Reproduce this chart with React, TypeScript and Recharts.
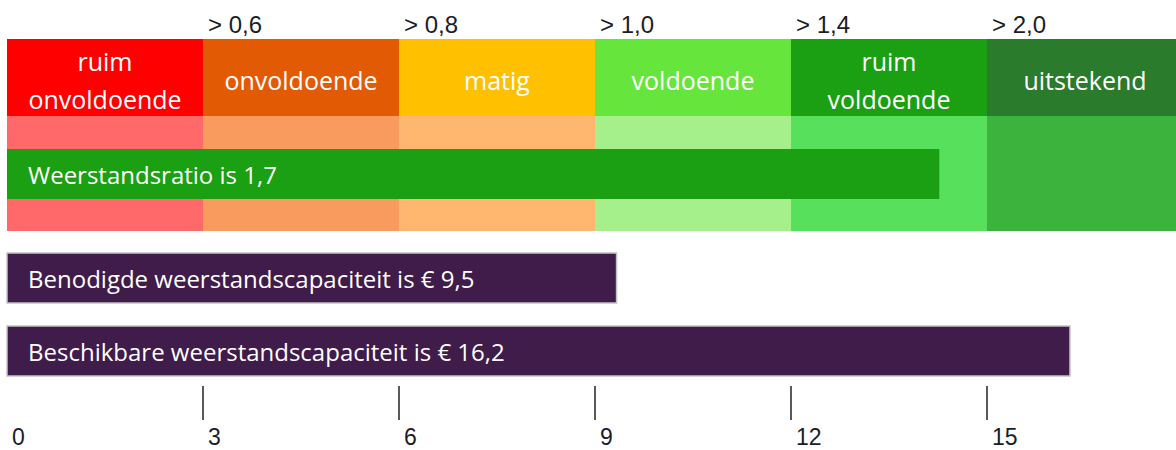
import { BarChart, Bar, ComposedChart, XAxis, YAxis, ReferenceArea, LabelList } from "recharts"

// zones on the scale (0-18), with their names and the ratio threshold above each boundary
const zoneBounds = [0, 3, 6, 9, 12, 15, 18]
const zoneNames = ["ruim\nonvoldoende", "onvoldoende", "matig", "voldoende", "ruim\nvoldoende", "uitstekend"]
const thresholdLabels = ["> 0,6", "> 0,8", "> 1,0", "> 1,4", "> 2,0"]
const scaleTicks = [0, 3, 6, 9, 12, 15]

// bars
const ratioLabels = ["Weerstandsratio is 1,7"]
const ratioValues = [14.27]
const capacityLabels = [
  "Benodigde weerstandscapaciteit is € 9,5",
  "Beschikbare weerstandscapaciteit is € 16,2",
]
const capacityValues = [9.33, 16.27]

const zoneDark = ["#ff0000", "#e35a05", "#ffc000", "#66e63c", "#1aa012", "#2a7b2c"]
const zoneLight = ["#ff6969", "#f99a5e", "#ffb66e", "#a6f08b", "#56e05b", "#3bb33d"]
const purple = "#401c4a"
const textDark = "#1c1c28"

const W = 1183 // plot runs to 18, a bit past the visible edge
const margin = { top: 0, right: 0, left: 7, bottom: 0 }

const zoneRow: Record<string, number | string> = { row: "zones" }
zoneNames.forEach((_, i) => {
  zoneRow[`z${i}`] = zoneBounds[i + 1] - zoneBounds[i]
})
const ratioData = ratioLabels.map((name, i) => ({ name, value: ratioValues[i] }))
const capacityData = capacityLabels.map((name, i) => ({ name, value: capacityValues[i] }))
const thresholdTicks = zoneBounds.slice(1, -1)

// eslint-disable-next-line @typescript-eslint/no-explicit-any
function ThresholdTick({ x, payload }: any) {
  const idx = zoneBounds.indexOf(payload.value) - 1
  return (
    <text x={x + 5} y={33} fontFamily="Liberation Sans" fontSize={24} fill={textDark}>
      {thresholdLabels[idx]}
    </text>
  )
}

// eslint-disable-next-line @typescript-eslint/no-explicit-any
function ScaleTick({ x, payload }: any) {
  return (
    <g>
      {payload.value !== 0 && (
        <line x1={x} x2={x} y1={155} y2={189} stroke="#222" strokeWidth={1.5} />
      )}
      <text x={x + 5} y={214} fontFamily="Liberation Sans" fontSize={23} fill={textDark}>
        {payload.value}
      </text>
    </g>
  )
}

function zoneLabel(i: number) {
  // eslint-disable-next-line @typescript-eslint/no-explicit-any
  return (props: any) => {
    const { x, y, width, height } = props
    const lines = zoneNames[i].split("\n")
    const cx = x + width / 2
    const base = y + height / 2 + 12.5
    return (
      <text textAnchor="middle" fill="#fff" fontFamily="Open Sans" fontSize={25}>
        {lines.map((l, k) => (
          <tspan key={k} x={cx} y={base + (k - (lines.length - 1) / 2) * 38.5}>
            {l}
          </tspan>
        ))}
      </text>
    )
  }
}

// eslint-disable-next-line @typescript-eslint/no-explicit-any
function barText(props: any) {
  const { x, y, height, value } = props
  return (
    <text x={x + 21} y={y + height / 2 + 10} fill="#fff" fontFamily="Open Sans" fontSize={24}>
      {value}
    </text>
  )
}

export default function App() {
  return (
    <div
      style={{
        position: "absolute",
        left: 0,
        top: 0,
        width: 1176,
        height: 450,
        overflow: "hidden",
        background: "#fff",
      }}
    >
      <div style={{ position: "absolute", left: 0, top: 0 }}>
        <BarChart width={W} height={116} data={[zoneRow]} layout="vertical" margin={margin} barCategoryGap={0}>
          <XAxis
            type="number"
            orientation="top"
            domain={[0, 18]}
            ticks={thresholdTicks}
            interval={0}
            height={39}
            axisLine={false}
            tickLine={false}
            tick={<ThresholdTick />}
          />
          <YAxis type="category" dataKey="row" hide />
          {zoneNames.map((_, i) => (
            <Bar key={i} dataKey={`z${i}`} stackId="z" fill={zoneDark[i]} isAnimationActive={false}>
              <LabelList dataKey={`z${i}`} content={zoneLabel(i)} />
            </Bar>
          ))}
        </BarChart>
      </div>

      <div style={{ position: "absolute", left: 0, top: 116 }}>
        <ComposedChart width={W} height={115} data={ratioData} layout="vertical" margin={margin}>
          <XAxis type="number" domain={[0, 18]} hide />
          <YAxis type="category" dataKey="name" hide />
          {zoneNames.map((_, i) => (
            <ReferenceArea
              key={i}
              x1={zoneBounds[i]}
              x2={zoneBounds[i + 1]}
              fill={zoneLight[i]}
              fillOpacity={1}
              stroke="none"
            />
          ))}
          <Bar dataKey="value" fill="#1aa012" barSize={50} isAnimationActive={false}>
            <LabelList dataKey="name" content={barText} />
          </Bar>
        </ComposedChart>
      </div>

      <div style={{ position: "absolute", left: 0, top: 231 }}>
        <BarChart
          width={W}
          height={219}
          data={capacityData}
          layout="vertical"
          margin={{ ...margin, top: 10 }}
        >
          <XAxis
            type="number"
            domain={[0, 18]}
            ticks={scaleTicks}
            interval={0}
            height={63}
            axisLine={false}
            tickLine={false}
            tick={<ScaleTick />}
          />
          <YAxis type="category" dataKey="name" hide />
          <Bar dataKey="value" fill={purple} stroke="#c2c2c2" strokeWidth={1.5} barSize={50} isAnimationActive={false}>
            <LabelList dataKey="name" content={barText} />
          </Bar>
        </BarChart>
      </div>
    </div>
  )
}
